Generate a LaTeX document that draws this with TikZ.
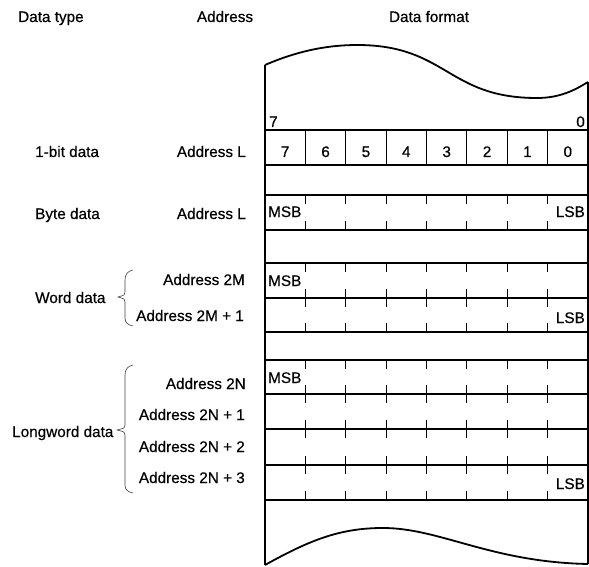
\documentclass[tikz,border=0pt]{standalone}
\usepackage{fontspec}
\setmainfont{Liberation Sans}
\newfontfamily\reffont{Liberation Sans}[FakeBold=0.5]
\begin{document}
\begin{tikzpicture}[x=1pt,y=-1pt,
  lbl/.style={inner sep=0pt, font=\reffont\fontsize{15.3}{18}\selectfont},
  framel/.style={line width=1.8pt},
  hline/.style={line width=1.7pt},
  tickl/.style={line width=0.8pt},
  bracel/.style={line width=0.6pt, black!75}]
\useasboundingbox (0,0) rectangle (589,567);

% headers
\node[lbl, anchor=base west] (hType) at (18,22) {Data type};
\node[lbl, anchor=base] (hAddr) at (225,22) {Address};
\node[lbl, anchor=base] (hFmt) at (429,22) {Data format};

% frame and waves
\draw[framel] (265,65) .. controls (295,52) and (325,45) .. (357,45)
  .. controls (447,45) and (447,98) .. (537,98)
  .. controls (560,98) and (575,90) .. (588,82);
\draw[framel] (265,565) .. controls (310,540) and (340,528) .. (383,528)
  .. controls (440,528) and (490,562) .. (588,564);
\draw[framel] (265,65) -- (265,565);
\draw[framel] (588,82) -- (588,564);

% horizontal lines
\foreach \yy in {130,165,195,230,263,298,332,360,394,429,465,500}
  \draw[hline] (265,\yy) -- (588,\yy);

% bit numbers above
\node[lbl, anchor=base west] (b7) at (269,127) {7};
\node[lbl, anchor=base east] (b0) at (585,127) {0};

% 1-bit row
\foreach \k in {1,...,7}
  \draw[tickl] ({265+40.375*\k},130) -- ({265+40.375*\k},165);
\foreach \k/\n in {0/7,1/6,2/5,3/4,4/3,5/2,6/1,7/0}
  \node[lbl, anchor=base] (bit\n) at ({265+40.375*(\k+0.5)},157) {\n};

% ticks in data rows
\foreach \t/\b in {195/230,263/298,298/332,360/394,394/429,429/465,465/500}
  \foreach \k in {1,...,7} {
    \draw[tickl] ({265+40.375*\k},\t) -- ++(0,9);
    \draw[tickl] ({265+40.375*\k},\b) -- ++(0,-9);
  }

% MSB / LSB
\node[lbl, anchor=base west] (msbB) at (268,217) {MSB};
\node[lbl, anchor=base east] (lsbB) at (585,217) {LSB};
\node[lbl, anchor=base west] (msbW) at (268,286) {MSB};
\node[lbl, anchor=base east] (lsbW) at (585,323) {LSB};
\node[lbl, anchor=base west] (msbL) at (268,383) {MSB};
\node[lbl, anchor=base east] (lsbL) at (585,489) {LSB};

% data type labels
\node[lbl, anchor=base west] (tBit) at (35,157) {1-bit data};
\node[lbl, anchor=base west] (tByte) at (35,219) {Byte data};
\node[lbl, anchor=base west] (tWord) at (35,303) {Word data};
\node[lbl, anchor=base west] (tLong) at (12,437) {Longword data};

% address labels
\node[lbl, anchor=base east] (aBit) at (246,157) {Address L};
\node[lbl, anchor=base east] (aByte) at (246,219) {Address L};
\node[lbl, anchor=base east] (aW0) at (245,285) {Address 2M};
\node[lbl, anchor=base east] (aW1) at (244,321) {Address 2M + 1};
\node[lbl, anchor=base east] (aL0) at (246,389) {Address 2N};
\node[lbl, anchor=base east] (aL1) at (245,420) {Address 2N + 1};
\node[lbl, anchor=base east] (aL2) at (245,452) {Address 2N + 2};
\node[lbl, anchor=base east] (aL3) at (245,483) {Address 2N + 3};

% braces
\draw[bracel] (133,270) .. controls (128,271) and (125,274) .. (125,280)
  -- (125,292) .. controls (125,295) .. (118,297)
  .. controls (125,299) .. (125,302) -- (125,318)
  .. controls (125,323) and (128,325) .. (133,326);
\draw[bracel] (133,365) .. controls (128,366) and (125,369) .. (125,375)
  -- (125,425) .. controls (125,428) .. (117,430)
  .. controls (125,432) .. (125,435) -- (125,485)
  .. controls (125,490) and (128,492) .. (133,493);
\end{tikzpicture}
\end{document}
